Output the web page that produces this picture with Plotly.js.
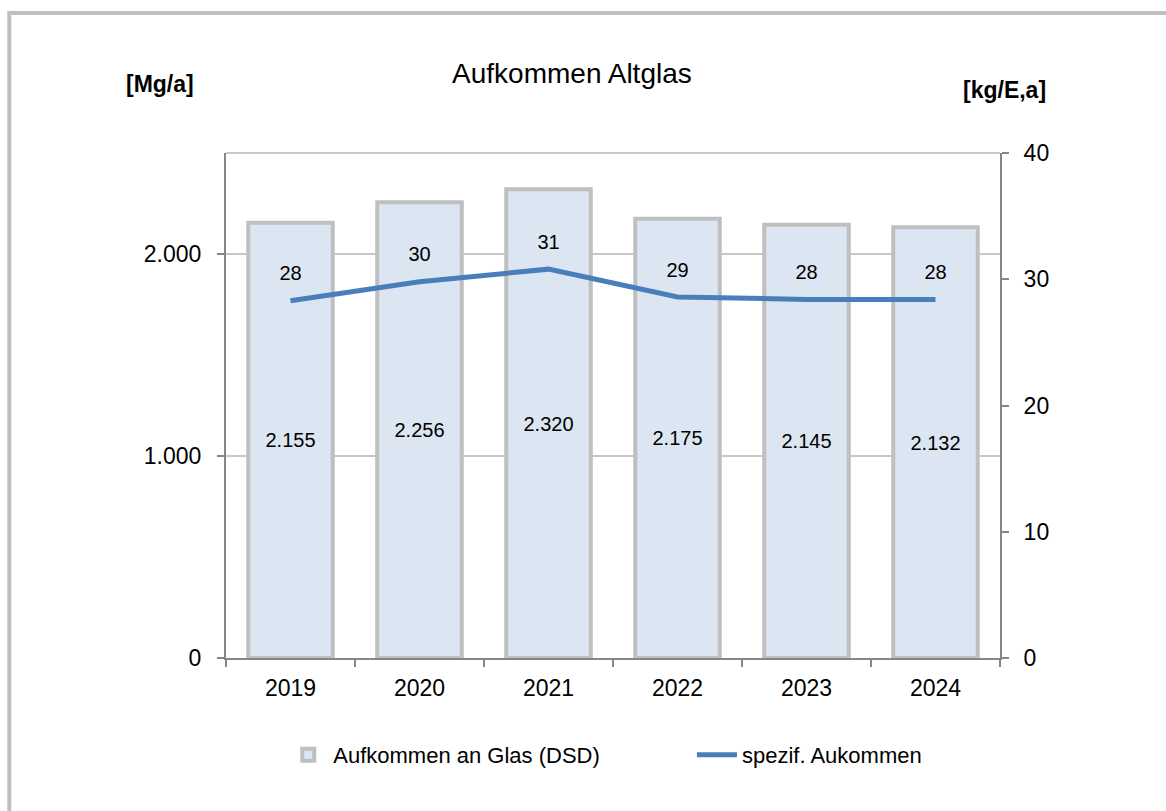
<!DOCTYPE html>
<html>
<head>
<meta charset="utf-8">
<script src="https://cdn.plot.ly/plotly-3.0.1.min.js"></script>
<style>
  html, body { margin: 0; padding: 0; background: #fff; }
  #chart { width: 1166px; height: 811px; }
</style>
</head>
<body>
<div id="chart"></div>
<script>
// Jahre und Werte
var jahre = ['2019', '2020', '2021', '2022', '2023', '2024'];
var aufkommenGlas = [2155, 2256, 2320, 2175, 2145, 2132];   // Mg/a
var spezAufkommen = [28.3, 29.8, 30.8, 28.6, 28.4, 28.4];   // kg/E,a

var linksTicks = [0, 1000, 2000];
var rechtsTicks = [0, 10, 20, 30, 40];

var schrift = 'Liberation Sans, Arial, sans-serif';

var balken = {
  type: 'bar',
  name: 'Aufkommen an Glas (DSD)',
  legend: 'legend',
  x: jahre,
  y: aufkommenGlas,
  width: 0.655,
  marker: {color: '#DCE6F2', line: {color: '#BFBFBF', width: 4}},
  texttemplate: '%{y:,}',
  textposition: 'inside',
  insidetextanchor: 'middle',
  textangle: 0,
  textfont: {family: schrift, size: 20, color: '#000'},
  hoverinfo: 'x+y'
};

var linie = {
  type: 'scatter',
  mode: 'lines+markers+text',
  name: 'spezif. Aukommen',
  legend: 'legend2',
  x: jahre,
  y: spezAufkommen,
  yaxis: 'y2',
  line: {color: '#4A7EBB', width: 5},
  // unsichtbare Marker, damit die Beschriftung Abstand zur Linie hat
  marker: {size: 23, color: 'rgba(0,0,0,0)'},
  texttemplate: '%{y:.0f}',
  textposition: 'top center',
  textfont: {family: schrift, size: 20, color: '#000'},
  cliponaxis: false
};

var legendeStil = {
  orientation: 'h',
  xanchor: 'left',
  y: -0.192, yanchor: 'middle',
  font: {family: schrift, size: 22, color: '#000'},
  itemwidth: 40,
  bgcolor: 'rgba(0,0,0,0)'
};

var layout = {
  width: 1166,
  height: 811,
  margin: {l: 226, r: 166, t: 153, b: 153},
  paper_bgcolor: '#fff',
  plot_bgcolor: '#fff',
  separators: ',.',
  font: {family: schrift, size: 23, color: '#000'},
  showlegend: true,
  title: {
    text: 'Aufkommen Altglas',
    font: {family: schrift, size: 28, color: '#000'},
    x: 0.4905, xanchor: 'center',
    y: 0.91, yanchor: 'middle'
  },
  xaxis: {
    type: 'category',
    tickson: 'boundaries',
    ticks: 'outside',
    ticklen: 7,
    tickcolor: '#868686',
    tickwidth: 2,
    showline: true,
    linecolor: '#868686',
    linewidth: 2,
    showgrid: false,
    ticklabelstandoff: 8,
    tickfont: {family: schrift, size: 23},
    fixedrange: true
  },
  yaxis: {
    range: [0, 2500],
    tickvals: linksTicks,
    tickformat: ',d',
    ticks: 'outside',
    ticklen: 7,
    tickcolor: '#868686',
    tickwidth: 2,
    showline: true,
    linecolor: '#868686',
    linewidth: 2,
    showgrid: true,
    gridcolor: '#C8C8C8',
    gridwidth: 2,
    zeroline: false,
    ticklabelstandoff: 11,
    tickfont: {family: schrift, size: 23}
  },
  yaxis2: {
    overlaying: 'y',
    side: 'right',
    range: [0, 40],
    tickvals: rechtsTicks,
    ticks: 'outside',
    ticklen: 7,
    tickcolor: '#868686',
    tickwidth: 2,
    showline: true,
    linecolor: '#868686',
    linewidth: 2,
    showgrid: false,
    zeroline: false,
    ticklabelstandoff: 10,
    tickfont: {family: schrift, size: 23}
  },
  legend: Object.assign({x: 0.074}, legendeStil),
  legend2: Object.assign({x: 0.602}, legendeStil),
  shapes: [
    // obere Begrenzung der Zeichenfläche
    {type: 'line', xref: 'paper', yref: 'paper', x0: 0, x1: 1, y0: 1, y1: 1,
     line: {color: '#C8C8C8', width: 2}, layer: 'below'},
    // Rahmen um das Diagramm (rechts und unten abgeschnitten)
    {type: 'rect', xref: 'paper', yref: 'paper', x0: -0.28, x1: 1.3, y0: -0.4, y1: 1.277,
     line: {color: '#BFBFBF', width: 4}, fillcolor: 'rgba(0,0,0,0)'}
  ],
  annotations: [
    {text: '<b>[Mg/a]</b>', xref: 'paper', yref: 'paper', x: -0.085, y: 1.136,
     xanchor: 'center', yanchor: 'middle',
     showarrow: false, font: {family: schrift, size: 23, color: '#000'}},
    {text: '<b>[kg/E,a]</b>', xref: 'paper', yref: 'paper', x: 1.006, y: 1.124,
     xanchor: 'center', yanchor: 'middle',
     showarrow: false, font: {family: schrift, size: 23, color: '#000'}}
  ]
};

var config = {
  displayModeBar: false
};

Plotly.newPlot('chart', [balken, linie], layout, config);
</script>
</body>
</html>
